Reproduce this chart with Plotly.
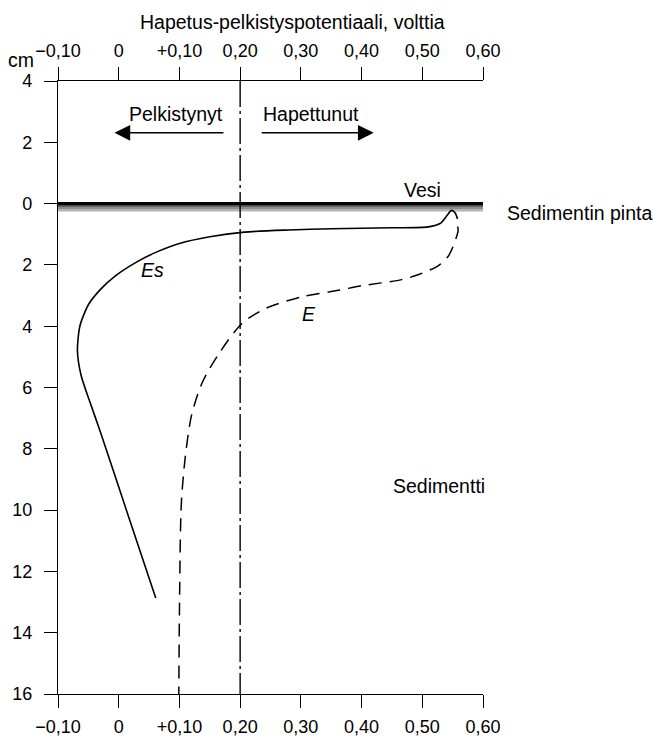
import plotly.graph_objects as go

# Redox potential (V) against depth (cm); negative depth = height above sediment surface
es_potential = [0.558, 0.554, 0.548, 0.541, 0.530, 0.510, 0.450, 0.350, 0.280, 0.207, 0.150,
                0.100, 0.060, 0.030, -0.005, -0.030, -0.050, -0.064, -0.068, -0.062, -0.047,
                -0.031, 0.016, 0.061]
es_depth = [0.50, 0.30, 0.22, 0.38, 0.64, 0.76, 0.79, 0.82, 0.86, 0.93, 1.08,
            1.30, 1.60, 1.90, 2.35, 2.80, 3.30, 4.00, 4.80, 5.60, 6.50,
            7.40, 10.20, 12.87]

e_potential = [0.558, 0.559, 0.544, 0.526, 0.493, 0.466, 0.400, 0.362, 0.300, 0.241, 0.203,
               0.166, 0.138, 0.120, 0.109, 0.103, 0.100, 0.099]
e_depth = [0.75, 0.88, 1.68, 2.03, 2.32, 2.48, 2.68, 2.83, 3.05, 3.43, 3.91,
           4.87, 5.82, 6.90, 8.38, 9.84, 13.35, 16.0]

neutral_potential = 0.20
x_ticks = [-0.10, 0.0, 0.10, 0.20, 0.30, 0.40, 0.50, 0.60]
x_labels = ["\u22120,10", "0", "+0,10", "0,20", "0,30", "0,40", "0,50", "0,60"]
y_ticks = [-4, -2, 0, 2, 4, 6, 8, 10, 12, 14, 16]
y_labels = ["4", "2", "0", "2", "4", "6", "8", "10", "12", "14", "16"]

FONT = "Liberation Sans, Arial, sans-serif"
X_RANGE = [-0.10, 0.60]
Y_RANGE = [16, -4]
ML, MR, MT, MB = 55, 170, 81, 41
W, H = 653 - ML - MR, 749 - MT - MB  # plot area in px

fig = go.Figure()

# neutral reference line at +0.20 V
fig.add_trace(go.Scatter(
    x=[neutral_potential, neutral_potential], y=[Y_RANGE[1], Y_RANGE[0]],
    mode="lines", xaxis="x2", line=dict(color="black", width=1.4, dash="26px,4px,3px,4px"),
    hoverinfo="skip", showlegend=False))

fig.add_trace(go.Scatter(
    x=es_potential, y=es_depth, mode="lines",
    line=dict(color="black", width=1.6, shape="spline", smoothing=0.7),
    hoverinfo="skip", showlegend=False))

fig.add_trace(go.Scatter(
    x=e_potential, y=e_depth, mode="lines",
    line=dict(color="black", width=1.5, shape="spline", smoothing=0.8, dash="13px,8px"),
    hoverinfo="skip", showlegend=False))

# sediment surface: dark line with a grey band beneath
for y0, y1, col in [(0.04, 0.11, "#666666"), (0.11, 0.18, "#8c8c8c"), (0.18, 0.26, "#b4b4b4")]:
    fig.add_shape(type="rect", xref="x", yref="y", x0=X_RANGE[0], x1=X_RANGE[1], y0=y0, y1=y1,
                  fillcolor=col, line=dict(width=0), layer="below")
fig.add_shape(type="line", xref="x", yref="y", x0=X_RANGE[0], x1=X_RANGE[1], y0=0, y1=0,
              line=dict(color="black", width=3.2))

tick_font = dict(family=FONT, size=18, color="black")
axis_common = dict(range=X_RANGE, tickvals=x_ticks, ticktext=x_labels, ticks="outside",
                   ticklen=13, tickwidth=1.3, tickcolor="black", showline=True,
                   linecolor="black", linewidth=1.4, showgrid=False, zeroline=False,
                   tickfont=tick_font, ticklabelstandoff=3)

fig.update_layout(
    width=653, height=749,
    margin=dict(l=ML, r=MR, t=MT, b=MB),
    paper_bgcolor="white", plot_bgcolor="white",
    font=dict(family=FONT, color="black"),
    xaxis=dict(**axis_common, side="bottom"),
    xaxis2=dict(**axis_common, side="top", overlaying="x", matches="x"),
    yaxis=dict(range=Y_RANGE, tickvals=y_ticks, ticktext=y_labels, ticks="outside",
               ticklen=13, tickwidth=1.3, tickcolor="black", showline=True,
               linecolor="black", linewidth=1.4, showgrid=False, zeroline=False,
               tickfont=tick_font, ticklabelstandoff=8),
)

txt = dict(family=FONT, size=19.5, color="black")


def px_x(px):
    return (px - ML) / W


def px_y(py):
    return 1 - (py - MT) / H


annotations = [
    dict(text="Hapetus-pelkistyspotentiaali, volttia", xref="paper", yref="paper",
         x=px_x(291), y=px_y(21), xanchor="center", yanchor="middle",
         showarrow=False, font=dict(family=FONT, size=19.5)),
    dict(text="cm", xref="paper", yref="paper", x=px_x(18), y=px_y(60),
         xanchor="center", yanchor="middle", showarrow=False, font=txt),
    dict(text="Pelkistynyt", x=0.095, y=-2.92, showarrow=False, font=txt),
    dict(text="Hapettunut", x=0.316, y=-2.92, showarrow=False, font=txt),
    dict(text="Vesi", x=0.50, y=-0.46, showarrow=False, font=txt),
    dict(text="Sedimentin pinta", xref="paper", x=px_x(505), y=0.3, xanchor="left",
         yanchor="middle", showarrow=False, font=txt),
    dict(text="Sedimentti", x=0.528, y=9.2, showarrow=False, font=txt),
    dict(text="<i>Es</i>", x=0.056, y=2.16, showarrow=False, font=txt),
    dict(text="<i>E</i>", x=0.313, y=3.59, showarrow=False, font=txt),
    # direction arrows
    dict(text="", x=-0.007, y=-2.31, ax=0.175, ay=-2.31, axref="x", ayref="y",
         showarrow=True, arrowhead=2, arrowsize=2.1, arrowwidth=1.5, arrowcolor="black"),
    dict(text="", x=0.42, y=-2.31, ax=0.233, ay=-2.31, axref="x", ayref="y",
         showarrow=True, arrowhead=2, arrowsize=2.1, arrowwidth=1.5, arrowcolor="black"),
]
fig.update_layout(annotations=annotations)

fig.write_html("out.html")
